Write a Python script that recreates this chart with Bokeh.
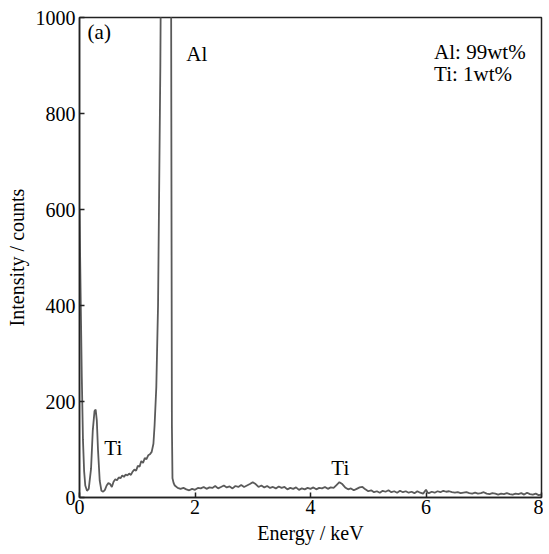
from bokeh.plotting import figure
from bokeh.models import Range1d, FixedTicker, Label
from bokeh.embed import file_html
from bokeh.resources import INLINE

energy = [0.00, 0.02, 0.04, 0.06, 0.08, 0.10, 0.13, 0.16, 0.20, 0.23, 0.26, 0.28, 0.30, 0.32, 0.35, 0.38,
          0.41, 0.44, 0.47, 0.50, 0.53, 0.56, 0.59, 0.62, 0.65, 0.68, 0.71, 0.74, 0.77, 0.80, 0.83, 0.86,
          0.89, 0.92, 0.95, 0.98, 1.01, 1.04, 1.07, 1.10, 1.13, 1.16, 1.19, 1.22, 1.25, 1.28, 1.30, 1.33,
          1.36, 1.38, 1.40, 1.42, 1.45, 1.49, 1.53, 1.56, 1.58, 1.59, 1.60, 1.61, 1.63, 1.65,
          1.70, 1.75, 1.80, 1.85, 1.90, 1.95, 2.00, 2.05, 2.10, 2.15, 2.20, 2.25, 2.30, 2.35, 2.40, 2.45,
          2.50, 2.55, 2.60, 2.65, 2.70, 2.75, 2.80, 2.85, 2.90, 2.95, 3.00, 3.05, 3.10, 3.15, 3.20, 3.25,
          3.30, 3.35, 3.40, 3.45, 3.50, 3.55, 3.60, 3.65, 3.70, 3.75, 3.80, 3.85, 3.90, 3.95, 4.00, 4.05,
          4.10, 4.15, 4.20, 4.25, 4.30, 4.35, 4.40, 4.45, 4.50, 4.55, 4.60, 4.65, 4.70, 4.75, 4.80, 4.85,
          4.90, 4.95, 5.00, 5.05, 5.10, 5.15, 5.20, 5.25, 5.30, 5.35, 5.40, 5.45, 5.50, 5.55, 5.60, 5.65,
          5.70, 5.75, 5.80, 5.85, 5.90, 5.95, 6.00, 6.03, 6.05, 6.10, 6.15, 6.20, 6.25, 6.30, 6.35, 6.40,
          6.45, 6.50, 6.55, 6.60, 6.65, 6.70, 6.75, 6.80, 6.85, 6.90, 6.95, 7.00, 7.05, 7.10, 7.15, 7.20,
          7.25, 7.30, 7.35, 7.40, 7.45, 7.50, 7.55, 7.60, 7.65, 7.70, 7.75, 7.80, 7.85, 7.90, 7.95, 8.00]
counts = [600, 420, 250, 120, 55, 25, 14, 18, 60, 140, 180, 183, 160, 100, 35, 14,
          12, 16, 25, 30, 28, 22, 33, 38, 36, 42, 40, 46, 43, 48, 46, 50,
          47, 54, 58, 56, 66, 64, 76, 72, 82, 80, 88, 90, 95, 112, 150, 230,
          400, 650, 900, 1300, 2200, 2600, 2400, 2000, 1500, 800, 150, 40, 30, 25,
          20, 18, 20, 17, 15, 18, 16, 20, 19, 22, 18, 21, 20, 24, 19, 22,
          25, 21, 23, 19, 24, 22, 26, 22, 25, 28, 32, 28, 22, 25, 21, 24,
          20, 22, 19, 23, 20, 22, 17, 20, 18, 21, 16, 19, 17, 20, 18, 21,
          17, 20, 19, 22, 18, 21, 20, 26, 32, 28, 21, 17, 19, 15, 18, 21,
          22, 17, 13, 15, 11, 13, 10, 14, 12, 15, 11, 13, 10, 14, 11, 13,
          10, 12, 9, 13, 10, 8, 16, 10, 9, 12, 10, 13, 11, 14, 12, 13,
          11, 10, 11, 9, 10, 11, 9, 8, 10, 8, 9, 11, 8, 7, 9, 8,
          6, 8, 7, 9, 7, 6, 8, 7, 9, 6, 10, 7, 6, 8, 5, 6]

x_ticks = [0, 2, 4, 6, 8]
y_ticks = [0, 200, 400, 600, 800, 1000]

FONT = "Liberation Serif"

p = figure(width=543, height=550, output_backend="svg", toolbar_location=None,
           x_range=Range1d(0, 8), y_range=Range1d(0, 1000),
           min_border_left=79, min_border_right=2, min_border_top=17, min_border_bottom=53)

p.line(energy, counts, line_color="#5a5a5a", line_width=1.8)

p.xgrid.visible = False
p.ygrid.visible = False
p.outline_line_color = "#222222"
p.outline_line_width = 1.5

p.axis.major_tick_in = 5
p.axis.major_tick_out = 0
p.axis.minor_tick_line_color = None
p.axis.axis_line_color = "#222222"
p.axis.axis_line_width = 1.5
p.axis.major_tick_line_color = "#222222"
p.axis.major_tick_line_width = 1.5
p.axis.major_label_text_color = "black"
p.axis.axis_label_text_color = "black"
p.axis.axis_label_text_font_style = "normal"

p.axis.major_label_text_font = FONT
p.axis.axis_label_text_font = FONT
p.axis.major_label_text_font_size = "20px"
p.axis.axis_label_text_font_size = "20px"

p.xaxis.ticker = FixedTicker(ticks=x_ticks)
p.yaxis.ticker = FixedTicker(ticks=y_ticks)
p.xaxis.axis_label = "Energy / keV"
p.yaxis.axis_label = "Intensity / counts"
p.xaxis.major_label_standoff = 2
p.xaxis.axis_label_standoff = 5
p.yaxis.major_label_standoff = 4
p.yaxis.axis_label_standoff = 5

labels = [
    ("(a)", 0.14, 969),
    ("Al", 1.85, 925),
    ("Al: 99wt%", 6.14, 929),
    ("Ti: 1wt%", 6.14, 883),
    ("Ti", 0.43, 104),
    ("Ti", 4.36, 62),
]
for txt, xx, yy in labels:
    p.add_layout(Label(x=xx, y=yy, text=txt, text_font=FONT, text_font_size="21px",
                       text_color="black", text_baseline="middle", text_align="left"))

open("out.html", "w").write(file_html(p, INLINE))
